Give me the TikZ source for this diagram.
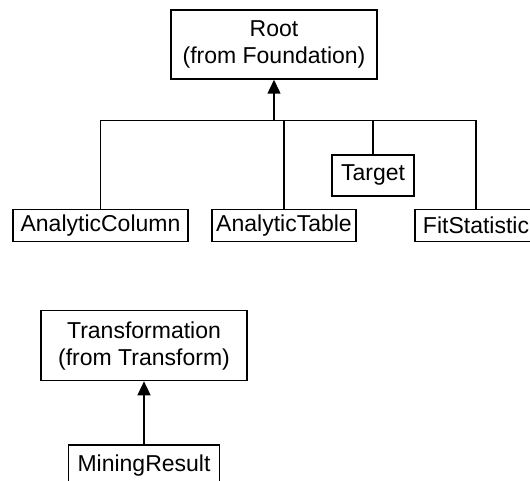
\documentclass[tikz,border=0pt]{standalone}
\usepackage{fontspec}
\setmainfont{Liberation Sans}
\usetikzlibrary{arrows.meta}
\tikzset{
  cls/.style={draw, line width=1.5pt, inner sep=0pt, align=center,
    font=\fontsize{23}{27}\selectfont},
  link/.style={line width=1.5pt},
  inherit/.style={line width=1.5pt, -{Triangle[width=13pt,length=14pt]}}
}
\begin{document}
\begin{tikzpicture}[x=1pt,y=1pt]
  \useasboundingbox (0,0) rectangle (530,-481);
  \clip (0,0) rectangle (530,-481);

  % upper hierarchy
  \node[cls, minimum width=206pt, minimum height=69pt] (root) at (274,-44.5)
    {Root\\(from Foundation)};
  \node[cls, minimum width=175pt, minimum height=32pt] (ac) at (100.5,-225.5) {AnalyticColumn};
  \node[cls, minimum width=144pt, minimum height=32pt] (at) at (284,-225.5) {AnalyticTable};
  \node[cls, minimum width=82pt, minimum height=41pt] (tg) at (373,-175.4) {Target};
  \node[cls, minimum width=122pt, minimum height=32pt] (fs) at (476,-225.5) {FitStatistic};

  \coordinate (bar) at (274,-120.6);
  \draw[link] (ac.north) |- (fs.north |- bar) -- (fs.north);
  \draw[link] (at.north) -- (at.north |- bar);
  \draw[link] (tg.north) -- (tg.north |- bar);
  \draw[inherit] (bar) -- (root.south);

  % lower hierarchy
  \node[cls, minimum width=206pt, minimum height=70pt] (tf) at (144,-345.6)
    {Transformation\\(from Transform)};
  \node[cls, minimum width=151pt, minimum height=41pt] (mr) at (144,-465.5) {MiningResult};
  \draw[inherit] (mr.north) -- (tf.south);
\end{tikzpicture}
\end{document}
